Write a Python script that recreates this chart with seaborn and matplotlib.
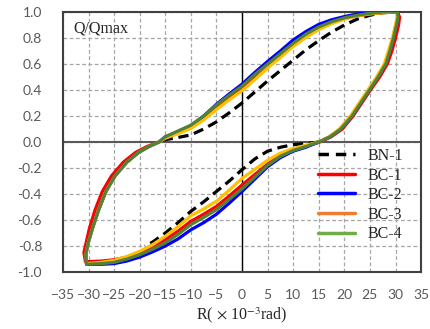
import matplotlib
matplotlib.use("Agg")
import matplotlib.pyplot as plt
from matplotlib.lines import Line2D
import seaborn as sns

# hysteresis loops: (R x10^-3 rad, Q/Qmax)
# loop order: left branch up -> upper branch -> right branch down -> lower branch
up_R = [-15, -12.5, -10, -7.5, -5, -2.5, 0, 2.5, 5, 7.5, 10, 12.5, 15, 17.5, 20, 22.5, 25, 27.5, 30.4]
low_R = [12.5, 10, 7.5, 5, 2.5, 0, -2.5, -5, -7.5, -10, -12.5, -15, -17.5, -20, -22.5, -25, -27.5, -30.4]
left_Q = [-0.935, -0.86, -0.78, -0.66, -0.52, -0.38, -0.26, -0.155, -0.08, -0.035, 0.0]
right_Q = [0.96, 0.9, 0.8, 0.7, 0.6, 0.5, 0.4, 0.3, 0.2, 0.1, 0.04, 0.0]

# BN-1
bn1_up_Q = [0.015, 0.035, 0.055, 0.1, 0.155, 0.225, 0.3, 0.385, 0.47, 0.55, 0.63, 0.71, 0.78, 0.845, 0.9, 0.945, 0.975, 0.995, 1.0]
bn1_right_R = [30.4, 30.1, 29.5, 28.8, 28.0, 26.5, 24.8, 23.1, 21.4, 19.2, 17.1, 15.0]
bn1_low_R = [12.5, 10, 7.5, 5, 2.5, 0, -2.5, -5, -7.5, -10, -12.5, -15, -17.5, -19]
bn1_low_Q = [-0.012, -0.02, -0.04, -0.07, -0.13, -0.213, -0.30, -0.38, -0.46, -0.533, -0.62, -0.70, -0.77, -0.80]

# BC-1
bc1_left_R = [-30.6, -30.9, -30.5, -29.8, -28.7, -27.3, -25.5, -23.2, -20.8, -18.6, -16.3]
bc1_left_Q = [-0.92, -0.85, -0.78, -0.66, -0.52, -0.38, -0.26, -0.155, -0.08, -0.035, 0.0]
bc1_up_Q = [0.03, 0.07, 0.11, 0.18, 0.26, 0.34, 0.415, 0.5, 0.585, 0.665, 0.745, 0.815, 0.87, 0.915, 0.95, 0.97, 0.985, 0.995, 1.0]
bc1_right_R = [30.8, 30.6, 30.0, 29.3, 28.4, 26.9, 25.1, 23.4, 21.7, 19.6, 17.4, 15.2]
bc1_low_Q = [-0.03, -0.06, -0.1, -0.17, -0.25, -0.33, -0.415, -0.495, -0.555, -0.61, -0.685, -0.75, -0.805, -0.855, -0.885, -0.905, -0.915, -0.92]

# BC-2
bc2_left_R = [-30.4, -30.5, -30.1, -29.2, -28.0, -26.6, -24.8, -22.5, -20.2, -18.2, -16.2]
bc2_up_Q = [0.04, 0.08, 0.125, 0.2, 0.29, 0.37, 0.445, 0.535, 0.62, 0.70, 0.785, 0.85, 0.905, 0.94, 0.965, 0.985, 0.995, 1.0, 1.0]
bc2_right_R = [30.5, 30.2, 29.6, 28.9, 28.1, 26.6, 24.9, 23.2, 21.5, 19.3, 17.2, 15.0]
bc2_low_Q = [-0.04, -0.07, -0.12, -0.19, -0.285, -0.38, -0.47, -0.555, -0.62, -0.675, -0.745, -0.80, -0.845, -0.885, -0.915, -0.935, -0.94, -0.94]

# BC-3
bc3_left_R = [-30.4, -30.5, -30.1, -29.2, -28.0, -26.6, -24.8, -22.5, -20.2, -18.2, -16.2]
bc3_up_Q = [0.03, 0.065, 0.105, 0.17, 0.25, 0.325, 0.395, 0.48, 0.57, 0.65, 0.735, 0.805, 0.865, 0.91, 0.945, 0.97, 0.985, 0.995, 1.0]
bc3_right_R = [30.3, 30.0, 29.4, 28.6, 27.8, 26.3, 24.6, 22.9, 21.2, 19.0, 17.0, 14.9]
bc3_low_Q = [-0.025, -0.05, -0.085, -0.14, -0.21, -0.28, -0.37, -0.455, -0.515, -0.567, -0.65, -0.725, -0.79, -0.84, -0.88, -0.91, -0.925, -0.935]

# BC-4
bc4_left_R = [-30.4, -30.5, -30.1, -29.2, -28.0, -26.6, -24.8, -22.5, -20.2, -18.2, -16.2]
bc4_up_Q = [0.04, 0.085, 0.13, 0.2, 0.285, 0.36, 0.43, 0.52, 0.6, 0.68, 0.76, 0.83, 0.885, 0.925, 0.955, 0.975, 0.99, 1.0, 1.0]
bc4_right_R = [30.5, 30.2, 29.6, 28.9, 28.1, 26.6, 24.9, 23.2, 21.5, 19.3, 17.2, 15.0]
bc4_low_Q = [-0.035, -0.065, -0.11, -0.18, -0.27, -0.36, -0.44, -0.52, -0.58, -0.635, -0.71, -0.775, -0.825, -0.867, -0.9, -0.925, -0.935, -0.94]

bn1_R = [-15.5] + up_R[1:] + bn1_right_R + bn1_low_R
bn1_Q = bn1_up_Q + right_Q + bn1_low_Q
bc1_R = bc1_left_R + up_R + bc1_right_R + low_R
bc1_Q = bc1_left_Q + bc1_up_Q + right_Q + bc1_low_Q
bc2_R = bc2_left_R + up_R + bc2_right_R + low_R
bc2_Q = left_Q + bc2_up_Q + right_Q + bc2_low_Q
bc3_R = bc3_left_R + up_R + bc3_right_R + low_R
bc3_Q = left_Q + bc3_up_Q + right_Q + bc3_low_Q
bc4_R = bc4_left_R + up_R + bc4_right_R + low_R
bc4_Q = left_Q + bc4_up_Q + right_Q + bc4_low_Q

sns.set_style("white")
plt.rcParams['font.family'] = ['Lato', 'DejaVu Sans']
plt.rcParams['mathtext.fontset'] = 'stix'

fig = plt.figure(figsize=(4.31, 3.29), dpi=100)
ax = fig.add_axes([0.146, 0.173, 0.831, 0.7905])

ax.grid(True, color='#a6a6a6', linestyle=(0, (3, 2)), linewidth=0.9)
ax.axhline(0, color='#595959', linewidth=1.5, zorder=2)
ax.axvline(0, color='black', linewidth=1.0, zorder=2)

lw = 2.3
sns.lineplot(x=bn1_R, y=bn1_Q, sort=False, estimator=None, color='black',
             linewidth=lw, linestyle=(0, (3.2, 1.8)), ax=ax, zorder=3)
sns.lineplot(x=bc1_R, y=bc1_Q, sort=False, estimator=None, color='#ff0000', linewidth=lw, ax=ax, zorder=4)
sns.lineplot(x=bc2_R, y=bc2_Q, sort=False, estimator=None, color='#0000ff', linewidth=lw, ax=ax, zorder=4)
sns.lineplot(x=bc3_R, y=bc3_Q, sort=False, estimator=None, color='#ffc000', linewidth=lw, ax=ax, zorder=4)
sns.lineplot(x=bc4_R, y=bc4_Q, sort=False, estimator=None, color='#548235', linewidth=lw, ax=ax, zorder=4)

ax.set_xlim(-35, 35)
ax.set_ylim(-1.0, 1.0)
ax.set_xticks(range(-35, 36, 5))
ax.set_yticks([-1.0, -0.8, -0.6, -0.4, -0.2, 0.0, 0.2, 0.4, 0.6, 0.8, 1.0])
ax.set_yticklabels(['%.1f' % v for v in ax.get_yticks()])
ax.tick_params(axis='both', length=0, labelsize=10, labelcolor='#595959')
ax.tick_params(axis='y', pad=15)
ax.tick_params(axis='x', pad=12)
for s in ax.spines.values():
    s.set_color('#404040')
    s.set_linewidth(1.5)

ax.set_xlabel(r'R( $\times$ 10$^{-3}$rad)', fontfamily='Liberation Serif', fontsize=11.5, labelpad=3)
ax.set_ylabel('')
ax.text(0.028, 0.935, 'Q/Qmax', transform=ax.transAxes, fontfamily='Liberation Serif',
        fontsize=11.5, va='center', ha='left')

handles = [
    Line2D([], [], color='black', linewidth=2.5, linestyle=(0, (3, 2))),
    Line2D([], [], color='#ff0000', linewidth=2.5),
    Line2D([], [], color='#0000ff', linewidth=2.5),
    Line2D([], [], color='#ed7d31', linewidth=2.5),
    Line2D([], [], color='#70ad47', linewidth=2.5),
]
ax.legend(handles, ['BN-1', 'BC-1', 'BC-2', 'BC-3', 'BC-4'], loc='lower right',
          bbox_to_anchor=(0.99, 0.06), frameon=False, handlelength=2.3,
          labelspacing=0.22, handletextpad=0.8,
          prop={'family': 'Liberation Serif', 'size': 11.5})

fig.savefig('out.png', dpi=100)
